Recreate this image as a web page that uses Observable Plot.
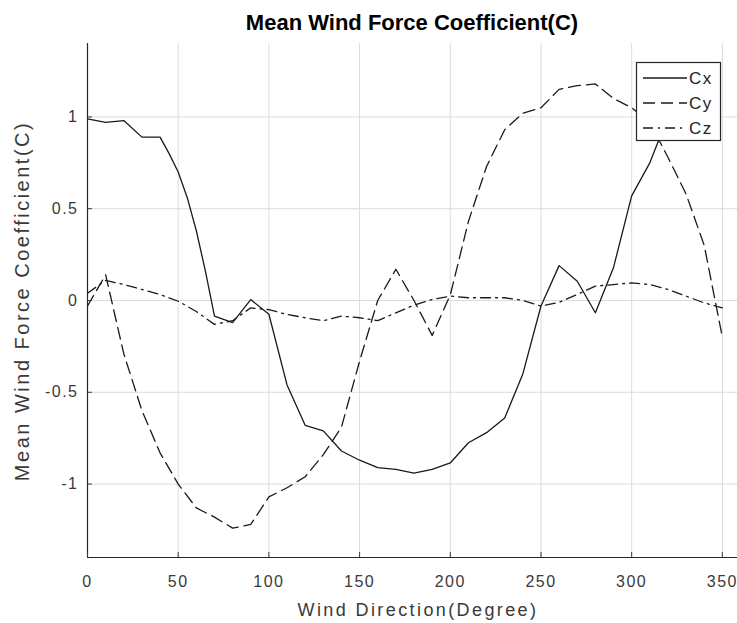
<!DOCTYPE html>
<html>
<head>
<meta charset="utf-8">
<script src="https://cdn.jsdelivr.net/npm/d3@7"></script>
<script src="https://cdn.jsdelivr.net/npm/@observablehq/plot@0.6"></script>
<style>
  html, body { margin: 0; padding: 0; background: #fff; }
  #chart { width: 737px; height: 623px; }
</style>
</head>
<body>
<div id="chart"></div>
<script>
// ---- data ----
const titleText = "Mean Wind Force Coefficient(C)";
const xLabel = "Wind Direction(Degree)";
const yLabel = "Mean Wind Force Coefficient(C)";
const xTicks = [0, 50, 100, 150, 200, 250, 300, 350];
const yTicks = [-1, -0.5, 0, 0.5, 1];
const seriesNames = ["Cx", "Cy", "Cz"];

const cxDeg = [0,10,20,30,40,45,50,55,60,65,70,80,90,100,110,120,130,140,150,160,170,180,190,200,210,220,230,240,250,260,270,280,290,300,310,320];
const cxVal = [0.99,0.97,0.98,0.89,0.89,0.80,0.70,0.56,0.38,0.16,-0.085,-0.12,0.005,-0.075,-0.46,-0.68,-0.71,-0.82,-0.87,-0.91,-0.92,-0.94,-0.92,-0.885,-0.775,-0.72,-0.64,-0.40,-0.03,0.19,0.105,-0.067,0.18,0.57,0.75,1.0];

const cyDeg = [0,10,20,30,40,50,60,70,80,90,100,110,120,130,140,150,160,170,180,190,200,210,220,230,240,250,260,270,280,290,300,310,320,330,340,350];
const cyVal = [-0.03,0.14,-0.29,-0.60,-0.83,-1.00,-1.13,-1.18,-1.24,-1.22,-1.07,-1.02,-0.96,-0.84,-0.69,-0.33,0.00,0.17,0.00,-0.19,0.03,0.43,0.73,0.93,1.02,1.05,1.15,1.17,1.18,1.10,1.05,0.97,0.78,0.58,0.30,-0.20];

const czDeg = [0,10,20,30,40,50,60,70,80,90,100,110,120,130,140,150,160,170,180,190,200,210,220,230,240,250,260,270,280,290,300,310,320,330,340,350];
const czVal = [0.04,0.11,0.087,0.06,0.033,-0.004,-0.06,-0.13,-0.11,-0.04,-0.05,-0.076,-0.094,-0.11,-0.085,-0.094,-0.11,-0.067,-0.025,0.005,0.024,0.015,0.015,0.015,0.0,-0.03,-0.01,0.033,0.078,0.087,0.096,0.087,0.06,0.024,-0.013,-0.04];

// ---- build tables ----
const toRows = (degs, vals, name) => degs.map((d, i) => ({deg: d, val: vals[i], series: name}));
const cx = toRows(cxDeg, cxVal, seriesNames[0]);
const cy = toRows(cyDeg, cyVal, seriesNames[1]);
const cz = toRows(czDeg, czVal, seriesNames[2]);

const ink = "#1a1a1a";
const axisInk = "#262626";
const dashes = {Cx: null, Cy: "12,6", Cz: "10,5,2,5"};

const svg = Plot.plot({
  width: 737,
  height: 623,
  marginLeft: 87,
  marginRight: -3,
  marginTop: 43,
  marginBottom: 66,
  style: {fontFamily: "'Liberation Sans', Arial, sans-serif", background: "#fff", overflow: "visible"},
  x: {domain: [0, 360]},
  y: {domain: [-1.4, 1.4]},
  marks: [
    Plot.gridX(xTicks, {stroke: "#dcdcdc", strokeOpacity: 1}),
    Plot.gridY(yTicks, {stroke: "#dcdcdc", strokeOpacity: 1}),
    Plot.line(cx, {x: "deg", y: "val", stroke: ink, strokeWidth: 1.3}),
    Plot.line(cy, {x: "deg", y: "val", stroke: ink, strokeWidth: 1.3, strokeDasharray: dashes.Cy}),
    Plot.line(cz, {x: "deg", y: "val", stroke: ink, strokeWidth: 1.3, strokeDasharray: dashes.Cz}),
    Plot.ruleX([0], {stroke: axisInk, strokeWidth: 1.2}),
    Plot.ruleY([-1.4], {stroke: axisInk, strokeWidth: 1.2}),
    Plot.axisX(xTicks, {tickSize: -5, tickPadding: 23, label: null, fontSize: 16, color: "#3a3a3a", tickFormat: d => String(d)}),
    Plot.axisY(yTicks, {tickSize: -5, tickPadding: 14, label: null, fontSize: 16, color: "#3a3a3a", tickFormat: d => String(d)})
  ]
});

const root = d3.select(svg);
root.selectAll("g[aria-label='x-axis tick label'] text, g[aria-label='y-axis tick label'] text")
  .style("letter-spacing", "1.5px");

// title
root.append("text")
  .attr("x", 412).attr("y", 30)
  .attr("text-anchor", "middle")
  .style("font-family", "'Liberation Sans', Arial, sans-serif")
  .style("font-weight", "bold").style("font-size", "22px")
  .attr("fill", "#000")
  .text(titleText);

// x label
root.append("text")
  .attr("x", 418).attr("y", 616)
  .attr("text-anchor", "middle")
  .style("font-size", "18px").style("letter-spacing", "2.4px")
  .attr("fill", "#3a3a3a")
  .text(xLabel);

// y label
root.append("text")
  .attr("transform", "translate(29,301) rotate(-90)")
  .attr("text-anchor", "middle")
  .style("font-size", "20px").style("letter-spacing", "2.5px")
  .attr("fill", "#3a3a3a")
  .text(yLabel);

// legend
const lg = root.append("g").attr("text-anchor", "start");
lg.append("rect")
  .attr("x", 636.5).attr("y", 62.5).attr("width", 84).attr("height", 78)
  .attr("fill", "#fff").attr("stroke", axisInk).attr("stroke-width", 1.2);
seriesNames.forEach((name, i) => {
  const yy = 78 + i * 25;
  lg.append("line")
    .attr("x1", 643).attr("x2", 687).attr("y1", yy).attr("y2", yy)
    .attr("stroke", ink).attr("stroke-width", 1.3)
    .attr("stroke-dasharray", dashes[name]);
  lg.append("text")
    .attr("x", 689).attr("y", yy + 6)
    .attr("text-anchor", "start")
    .style("font-size", "17px").style("letter-spacing", "1.5px")
    .attr("fill", "#222")
    .text(name);
});

document.getElementById("chart").appendChild(svg);
</script>
</body>
</html>
